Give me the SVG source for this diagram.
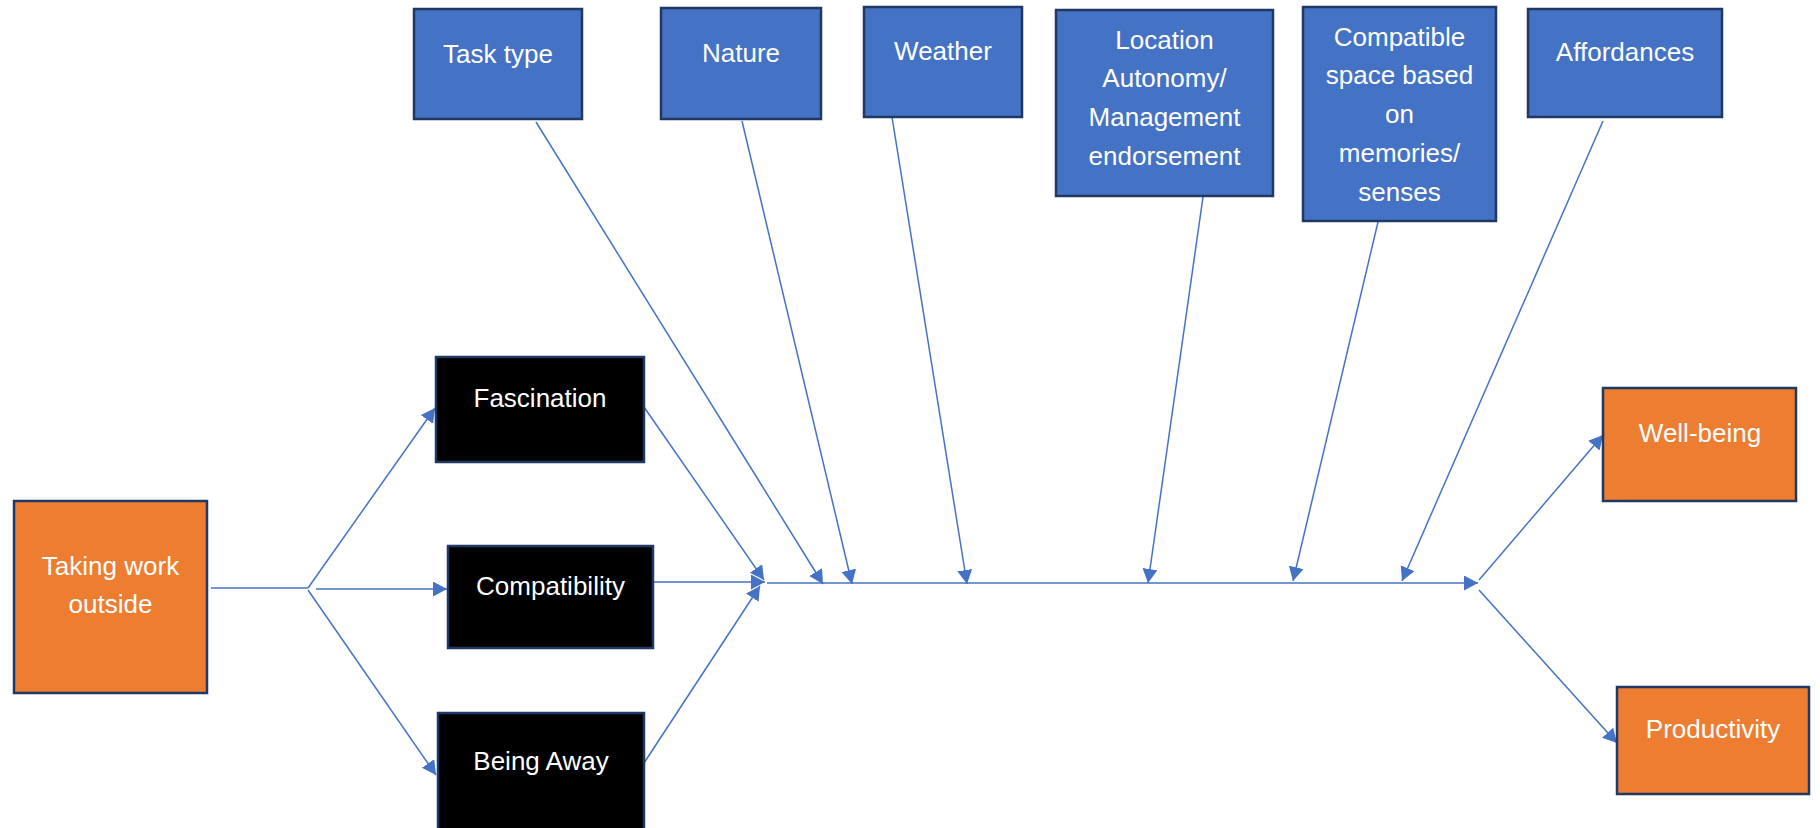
<svg xmlns="http://www.w3.org/2000/svg" width="1820" height="828" viewBox="0 0 1820 828">
<style>
.box{stroke:#1F3864;stroke-width:2.5}
.blue{fill:#4472C4}
.orange{fill:#ED7D31}
.black{fill:#000000}
.t{font-family:"Liberation Sans",Arial,sans-serif;font-size:26px;fill:#FFFFFF;text-anchor:middle}
.c{stroke:#4472C4;stroke-width:1.5;fill:none}
.a{marker-end:url(#arr)}
</style>
<defs>
<marker id="arr" markerUnits="userSpaceOnUse" markerWidth="15" markerHeight="16" refX="14" refY="7.5" orient="auto" viewBox="0 0 15 16">
<path d="M0,0 L14,7.5 L0,15 z" fill="#4472C4"/>
</marker>
</defs>
<rect width="1820" height="828" fill="#FFFFFF"/>
<g id="connectors">
<line class="c" x1="211" y1="588" x2="308" y2="588"/>
<line class="c a" x1="308" y1="588" x2="435" y2="408"/>
<line class="c a" x1="316" y1="589" x2="447" y2="589"/>
<line class="c a" x1="308" y1="590" x2="436" y2="775"/>
<line class="c a" x1="644" y1="407" x2="764" y2="580"/>
<line class="c a" x1="653" y1="582" x2="765" y2="582"/>
<line class="c a" x1="644" y1="763" x2="760" y2="586"/>
<line class="c a" x1="767" y1="583" x2="1478" y2="583"/>
<line class="c a" x1="536" y1="122" x2="823" y2="584"/>
<line class="c a" x1="742" y1="121" x2="852" y2="584"/>
<line class="c a" x1="892" y1="117" x2="967" y2="584"/>
<line class="c a" x1="1203" y1="197" x2="1148" y2="583"/>
<line class="c a" x1="1378" y1="222" x2="1293" y2="581"/>
<line class="c a" x1="1603" y1="121" x2="1402" y2="581"/>
<line class="c a" x1="1479" y1="580" x2="1603" y2="435"/>
<line class="c a" x1="1479" y1="590" x2="1617" y2="743"/>
</g>
<g id="taking-work-outside">
<rect class="box orange" x="14" y="501" width="193" height="192"/>
<text class="t" x="110.5" y="575">Taking work</text>
<text class="t" x="110.5" y="613">outside</text>
</g>
<g id="fascination">
<rect class="box black" x="436" y="357" width="208" height="105"/>
<text class="t" x="540" y="407">Fascination</text>
</g>
<g id="compatibility">
<rect class="box black" x="448" y="546" width="205" height="102"/>
<text class="t" x="550.5" y="595">Compatibility</text>
</g>
<g id="being-away">
<rect class="box black" x="438" y="713" width="206" height="130"/>
<text class="t" x="541" y="770">Being Away</text>
</g>
<g id="task-type">
<rect class="box blue" x="414" y="9" width="168" height="110"/>
<text class="t" x="498" y="63">Task type</text>
</g>
<g id="nature">
<rect class="box blue" x="661" y="8" width="160" height="111"/>
<text class="t" x="741" y="62">Nature</text>
</g>
<g id="weather">
<rect class="box blue" x="864" y="7" width="158" height="110"/>
<text class="t" x="943" y="60">Weather</text>
</g>
<g id="location-autonomy">
<rect class="box blue" x="1056" y="10" width="217" height="186"/>
<text class="t" x="1164.5" y="49">Location</text>
<text class="t" x="1164.5" y="87">Autonomy/</text>
<text class="t" x="1164.5" y="126">Management</text>
<text class="t" x="1164.5" y="165">endorsement</text>
</g>
<g id="compatible-space">
<rect class="box blue" x="1303" y="7" width="193" height="214"/>
<text class="t" x="1399.5" y="46">Compatible</text>
<text class="t" x="1399.5" y="84">space based</text>
<text class="t" x="1399.5" y="123">on</text>
<text class="t" x="1399.5" y="162">memories/</text>
<text class="t" x="1399.5" y="201">senses</text>
</g>
<g id="affordances">
<rect class="box blue" x="1528" y="9" width="194" height="108"/>
<text class="t" x="1625" y="61">Affordances</text>
</g>
<g id="well-being">
<rect class="box orange" x="1603" y="388" width="193" height="113"/>
<text class="t" x="1700" y="442">Well-being</text>
</g>
<g id="productivity">
<rect class="box orange" x="1617" y="687" width="192" height="107"/>
<text class="t" x="1713" y="738">Productivity</text>
</g>
</svg>
